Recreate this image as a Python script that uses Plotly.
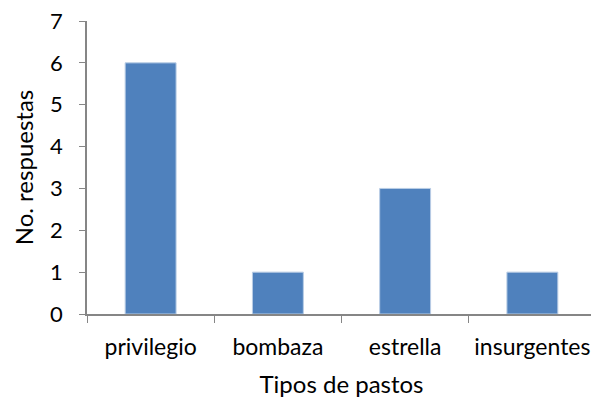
import plotly.graph_objects as go

categorias = ["privilegio", "bombaza", "estrella", "insurgentes"]
respuestas = [6, 1, 3, 1]

fnt = "Lato, Open Sans, sans-serif"

fig = go.Figure()
fig.add_trace(go.Bar(
    x=categorias, y=respuestas,
    marker=dict(color="#4F81BD", line=dict(color="#B9CDE5", width=1)),
    width=0.4,
))

# the page body adds an 8px margin, so the figure is sized to fit after it
fig.update_layout(
    width=591, height=394,
    margin=dict(l=79, r=3, t=13, b=88),
    plot_bgcolor="white", paper_bgcolor="white",
    showlegend=False,
    font=dict(family=fnt, color="black", size=22),
)
fig.update_xaxes(
    automargin=False,
    showline=True, linecolor="#868686", linewidth=1.5,
    ticks="outside", tickson="boundaries", ticklen=7, tickcolor="#868686",
    tickfont=dict(size=23), ticklabelstandoff=12,
    title=dict(text="Tipos de pastos", font=dict(size=24), standoff=17),
    showgrid=False,
)
fig.update_yaxes(
    automargin=False,
    range=[0, 7], dtick=1,
    showline=True, linecolor="#868686", linewidth=1.5,
    ticks="outside", ticklen=6, tickcolor="#868686",
    tickfont=dict(size=22), ticklabelstandoff=12, ticklabeloverflow="allow",
    title=dict(text="No. respuestas", font=dict(size=24), standoff=10),
    showgrid=False, zeroline=False,
)

fig.write_html("out.html")
